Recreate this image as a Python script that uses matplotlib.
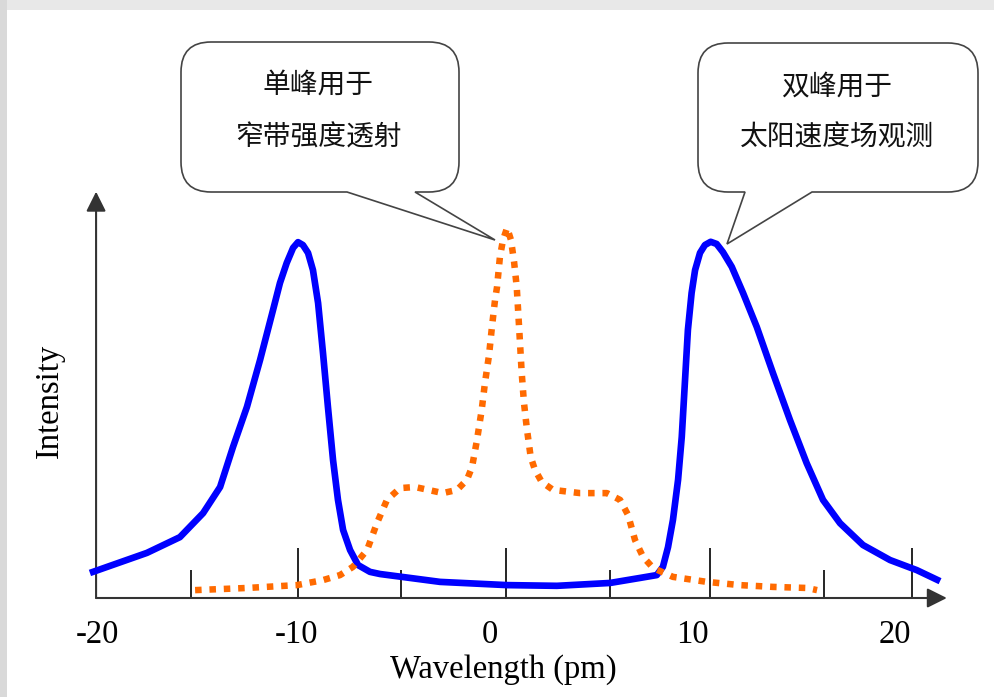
import matplotlib.pyplot as plt
from matplotlib.path import Path
from matplotlib.patches import PathPatch, Rectangle

# Blue curve: double-peak profile (wavelength in pm, relative intensity)
blue_wl = [-20.15, -17.37, -15.76, -14.63, -13.80, -13.17, -12.49, -11.85, -11.22,
           -10.88, -10.55, -10.24, -10.00, -9.76, -9.51, -9.27, -9.02, -8.78, -8.54,
           -8.29, -8.05, -7.80, -7.46, -7.07, -6.49, -6.00, -4.93, -3.07, 0.20, 2.63,
           5.22, 6.68, 7.50, 7.80, 8.05, 8.29, 8.54, 8.72, 8.88, 9.02, 9.20, 9.37,
           9.61, 9.85, 10.13, 10.42, 10.73, 11.16, 11.71, 12.38, 13.17, 14.00, 14.81,
           15.61, 16.44, 17.56, 18.88, 20.18, 21.32]
blue_int = [0.070, 0.126, 0.170, 0.237, 0.310, 0.422, 0.534, 0.665, 0.804,
            0.880, 0.936, 0.978, 0.994, 0.986, 0.964, 0.916, 0.824, 0.684, 0.534,
            0.385, 0.274, 0.190, 0.134, 0.092, 0.073, 0.067, 0.059, 0.045, 0.036, 0.034,
            0.042, 0.056, 0.064, 0.087, 0.142, 0.218, 0.330, 0.450, 0.609, 0.749, 0.852, 0.916,
            0.964, 0.986, 0.995, 0.989, 0.966, 0.925, 0.852, 0.757, 0.628, 0.497, 0.377,
            0.274, 0.209, 0.148, 0.106, 0.078, 0.047]

# Orange dotted curve: single-peak profile
orange_wl = [-15.02, -12.49, -10.05, -8.78, -7.95, -7.32, -6.63, -6.15, -5.66, -5.02,
             -4.29, -2.93, -2.24, -1.76, -1.51, -1.27, -1.04, -0.88, -0.68, -0.54,
             -0.39, -0.29, -0.15, 0.00, 0.20, 0.39, 0.54, 0.67, 0.75, 0.83, 0.91,
             1.02, 1.16, 1.35, 1.56, 1.89, 2.44, 3.76, 5.07, 5.71, 6.10, 6.44, 6.83,
             7.32, 8.29, 9.95, 11.56, 13.17, 14.83, 15.32]
orange_int = [0.022, 0.028, 0.036, 0.050, 0.064, 0.087, 0.134, 0.209, 0.274, 0.307,
              0.310, 0.293, 0.302, 0.330, 0.366, 0.441, 0.525, 0.601, 0.679, 0.757,
              0.832, 0.869, 0.953, 1.000, 1.034, 1.000, 0.939, 0.869, 0.791, 0.712, 0.631,
              0.547, 0.475, 0.394, 0.358, 0.324, 0.302, 0.293, 0.293, 0.274, 0.232, 0.162, 0.115,
              0.084, 0.059, 0.045, 0.036, 0.031, 0.028, 0.022]

major_ticks = [-10.0, 0.15, 10.1, 19.95]
minor_ticks = [-15.2, -5.0, 5.2, 15.65]
tick_labels = ["-20", "-10", "0", "10", "20"]
tick_label_x = [-19.76, -10.05, -0.63, 9.22, 19.1]

left_note = ["单峰用于", "窄带强度透射"]
right_note = ["双峰用于", "太阳速度场观测"]

SERIF = ["Liberation Serif", "DejaVu Serif"]
CJK = ["Noto Sans CJK SC", "DejaVu Sans"]

fig = plt.figure(figsize=(9.95, 6.97), dpi=100)
ax = fig.add_axes([0, 0, 1, 1])
ax.set_xlim(-503 / 20.5, (995 - 503) / 20.5)
ax.set_ylim(-99 / 358, 598 / 358)
ax.axis("off")

# axes with arrows
axis_x0 = -19.85
ax.annotate("", xy=(axis_x0, 1.135), xytext=(axis_x0, 0),
            arrowprops=dict(arrowstyle="-|>", color="#333333", lw=1.5,
                            mutation_scale=30, shrinkA=0, shrinkB=0))
ax.annotate("", xy=(21.65, 0), xytext=(axis_x0, 0),
            arrowprops=dict(arrowstyle="-|>", color="#333333", lw=1.5,
                            mutation_scale=30, shrinkA=0, shrinkB=0))
ax.vlines(major_ticks, 0, 0.14, color="black", lw=1.2)
ax.vlines(minor_ticks, 0, 0.078, color="black", lw=1.2)

for lab, xpos in zip(tick_labels, tick_label_x):
    ax.text(xpos, -0.102, lab, ha="center", va="center", fontsize=23.5,
            family=SERIF, color="black")
ax.text(0.0, -0.2, "Wavelength (pm)", ha="center", va="center",
        fontsize=23.5, family=SERIF)
ax.text(-22.1, 0.55, "Intensity", ha="center", va="center", rotation=90,
        fontsize=23.5, family=SERIF)

ax.plot(blue_wl, blue_int, color="#0000ff", lw=4.8, solid_capstyle="butt",
        solid_joinstyle="round", zorder=3)
ax.plot(orange_wl, orange_int, color="#ff6a00", lw=4.7, linestyle=(0, (1.0, 1.2)),
        dash_capstyle="butt", zorder=4)

# overlay in pixel units for the callouts and the page border
ov = fig.add_axes([0, 0, 1, 1], zorder=5)
ov.set_xlim(0, 995)
ov.set_ylim(697, 0)
ov.axis("off")
ov.patch.set_alpha(0)


def callout(x0, y0, x1, y1, b0, b1, tip, r=30):
    verts = [(x0 + r, y0), (x1 - r, y0), (x1, y0), (x1, y0 + r),
             (x1, y1 - r), (x1, y1), (x1 - r, y1),
             (b1, y1), tip, (b0, y1), (x0 + r, y1),
             (x0, y1), (x0, y1 - r), (x0, y0 + r), (x0, y0), (x0 + r, y0),
             (x0 + r, y0)]
    codes = [Path.MOVETO, Path.LINETO, Path.CURVE3, Path.CURVE3,
             Path.LINETO, Path.CURVE3, Path.CURVE3,
             Path.LINETO, Path.LINETO, Path.LINETO, Path.LINETO,
             Path.CURVE3, Path.CURVE3, Path.LINETO, Path.CURVE3, Path.CURVE3,
             Path.CLOSEPOLY]
    ov.add_patch(PathPatch(Path(verts, codes), facecolor="white",
                           edgecolor="#444444", lw=1.2))


callout(181, 42, 459, 192, 347, 415, (495, 240))
callout(698, 43, 978, 192, 745, 812, (727, 244))
for line, y in zip(left_note, [85, 138]):
    ov.text(318, y, line, ha="center", va="center", fontsize=20,
            family=CJK, color="#111111")
for line, y in zip(right_note, [87, 138]):
    ov.text(837, y, line, ha="center", va="center", fontsize=20,
            family=CJK, color="#111111")

ov.add_patch(Rectangle((0, 0), 995, 10, facecolor="#e8e8e8", edgecolor="none"))
ov.add_patch(Rectangle((0, 0), 7, 697, facecolor="#d9d9d9", edgecolor="none"))

fig.savefig("out.png", dpi=100)
